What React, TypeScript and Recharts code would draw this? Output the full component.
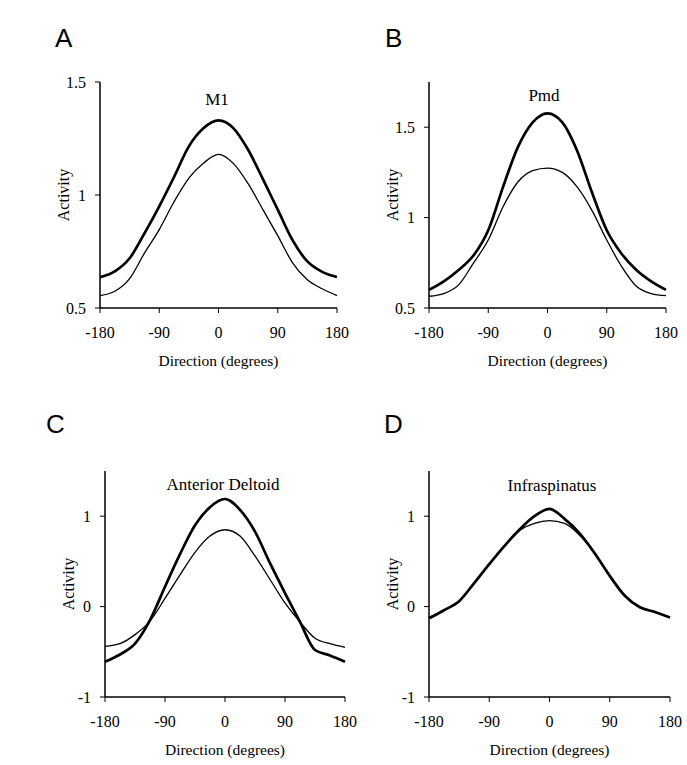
import React from 'react';
import { LineChart, Line, XAxis, YAxis } from 'recharts';

// movement directions (degrees), shared by every panel
const directions = [-180, -157.5, -135, -112.5, -90, -67.5, -45, -22.5, 0, 22.5, 45, 67.5, 90, 112.5, 135, 157.5, 180];
const xTicks = [-180, -90, 0, 90, 180];

// A - M1
const m1Thick = [0.636, 0.662, 0.72, 0.83, 0.95, 1.08, 1.215, 1.296, 1.33, 1.296, 1.2, 1.07, 0.935, 0.8, 0.706, 0.66, 0.637];
const m1Thin = [0.555, 0.574, 0.63, 0.743, 0.847, 0.97, 1.075, 1.142, 1.18, 1.14, 1.05, 0.935, 0.82, 0.7, 0.625, 0.585, 0.555];

// B - Pmd
const pmdThick = [0.6, 0.647, 0.71, 0.79, 0.93, 1.17, 1.39, 1.527, 1.577, 1.527, 1.37, 1.14, 0.93, 0.8, 0.71, 0.647, 0.6];
const pmdThin = [0.565, 0.58, 0.628, 0.748, 0.876, 1.06, 1.197, 1.26, 1.274, 1.25, 1.17, 1.04, 0.876, 0.73, 0.62, 0.58, 0.568];

// C - Anterior Deltoid
const adThick = [-0.61, -0.53, -0.41, -0.15, 0.22, 0.58, 0.9, 1.1, 1.19, 1.07, 0.83, 0.48, 0.15, -0.17, -0.48, -0.54, -0.61];
const adThin = [-0.44, -0.41, -0.31, -0.16, 0.09, 0.35, 0.6, 0.78, 0.85, 0.78, 0.56, 0.3, 0.04, -0.17, -0.35, -0.41, -0.45];

// D - Infraspinatus
const infThick = [-0.13, -0.04, 0.06, 0.26, 0.47, 0.67, 0.85, 1.0, 1.08, 0.97, 0.81, 0.59, 0.34, 0.12, -0.007, -0.06, -0.12];
const infThin = [-0.12, -0.04, 0.06, 0.26, 0.47, 0.67, 0.84, 0.92, 0.95, 0.92, 0.79, 0.59, 0.34, 0.12, -0.007, -0.06, -0.12];

const serif = '"Liberation Serif", "Times New Roman", serif';
const sans = '"Liberation Sans", Arial, sans-serif';

const rows = (thick: number[], thin: number[]) =>
  directions.map((dir, i) => ({ dir, thick: thick[i], thin: thin[i] }));

const XLabel = (props: any) => {
  const { x, y, width } = props.viewBox;
  return (
    <text x={x + width / 2} y={y + 52} textAnchor="middle" dominantBaseline="central"
      fontSize={15.5} fontFamily={serif} fill="#000">
      Direction (degrees)
    </text>
  );
};

const YLabel = (props: any) => {
  const { x, y, width, height } = props.viewBox;
  const cx = x + width - 37;
  const cy = y + height / 2;
  return (
    <text x={cx} y={cy} transform={`rotate(-90 ${cx} ${cy})`} textAnchor="middle"
      dominantBaseline="central" fontSize={16} fontFamily={serif} fill="#000">
      Activity
    </text>
  );
};

interface PanelProps {
  box: [number, number, number, number];
  data: any[];
  yDomain: [number, number];
  yTicks: number[];
}

function Panel({ box, data, yDomain, yTicks }: PanelProps) {
  const [L, T, R, B] = box;
  const padL = 80, padT = 10, padR = 15, padB = 70;
  const tick = { fill: '#000', fontSize: 16, fontFamily: serif };
  return (
    <div style={{ position: 'absolute', left: L - padL, top: T - padT }}>
      <LineChart
        width={R - L + padL + padR}
        height={B - T + padT + padB}
        data={data}
        margin={{ top: padT, right: padR, bottom: 0, left: 0 }}
      >
        <XAxis
          type="number"
          dataKey="dir"
          domain={[-180, 180]}
          ticks={xTicks}
          interval={0}
          height={padB}
          tickSize={5}
          tickMargin={14}
          tick={tick}
          axisLine={{ stroke: '#000', strokeWidth: 1.3 }}
          tickLine={{ stroke: '#000' }}
          label={<XLabel />}
        />
        <YAxis
          type="number"
          domain={yDomain}
          ticks={yTicks}
          interval={0}
          width={padL}
          tickSize={5}
          tickMargin={9}
          tick={tick}
          axisLine={{ stroke: '#000', strokeWidth: 1.5 }}
          tickLine={{ stroke: '#000' }}
          label={<YLabel />}
        />
        <Line type="monotone" dataKey="thin" stroke="#000" strokeWidth={1.3} dot={false} isAnimationActive={false} />
        <Line type="monotone" dataKey="thick" stroke="#000" strokeWidth={2.7} dot={false} isAnimationActive={false} />
      </LineChart>
    </div>
  );
}

export default function App() {
  return (
    <div style={{ position: 'absolute', left: 0, top: 0, width: 687, height: 765, background: '#fff' }}>
      <Panel box={[100, 82, 337, 308]} data={rows(m1Thick, m1Thin)} yDomain={[0.5, 1.5]} yTicks={[0.5, 1, 1.5]} />
      <Panel box={[429, 82, 666, 308]} data={rows(pmdThick, pmdThin)} yDomain={[0.5, 1.75]} yTicks={[0.5, 1, 1.5]} />
      <Panel box={[105, 471, 345, 697]} data={rows(adThick, adThin)} yDomain={[-1, 1.5]} yTicks={[-1, 0, 1]} />
      <Panel box={[429, 471, 670, 697]} data={rows(infThick, infThin)} yDomain={[-1, 1.5]} yTicks={[-1, 0, 1]} />
      <svg width={687} height={765} style={{ position: 'absolute', left: 0, top: 0, pointerEvents: 'none' }}>
        <g fontFamily={sans} fontSize={26} fill="#000">
          <text x={55} y={47}>A</text>
          <text x={385} y={47}>B</text>
          <text x={46} y={433}>C</text>
          <text x={384} y={433}>D</text>
        </g>
        <g fontFamily={serif} fontSize={17} fill="#000" textAnchor="middle">
          <text x={217} y={105}>M1</text>
          <text x={544} y={101}>Pmd</text>
          <text x={223} y={490}>Anterior Deltoid</text>
          <text x={552} y={491}>Infraspinatus</text>
        </g>
      </svg>
    </div>
  );
}
